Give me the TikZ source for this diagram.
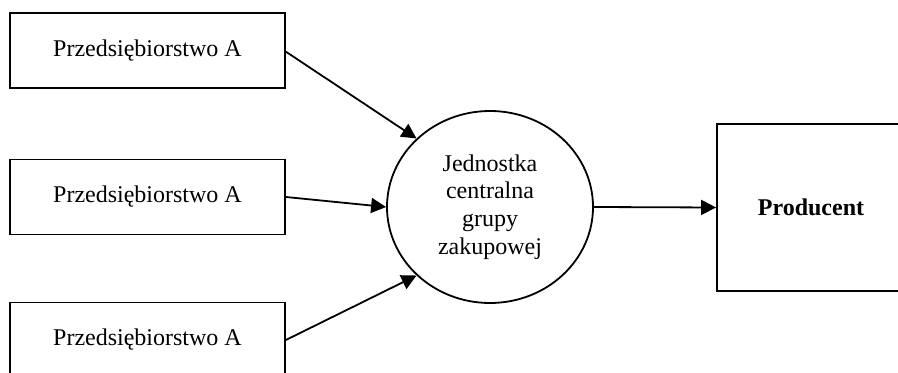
\documentclass[tikz,border=0pt]{standalone}
\usepackage{fontspec}
\setmainfont{Liberation Serif}
\usetikzlibrary{shapes.geometric,arrows.meta}
\tikzset{
  firmbox/.style={draw,line width=0.9pt,rectangle,minimum width=137.5pt,minimum height=37.5pt,inner sep=0pt,font=\fontsize{12}{13.8}\selectfont},
  hubnode/.style={draw,line width=0.9pt,ellipse,minimum width=103pt,minimum height=96pt,inner sep=0pt,align=center,font=\fontsize{12}{13.8}\selectfont},
  prodbox/.style={draw,line width=0.9pt,rectangle,minimum width=126pt,minimum height=83.5pt,inner sep=0pt,font=\fontsize{12}{13.8}\selectfont\bfseries},
  flow/.style={line width=0.9pt,-{Triangle[length=7.5pt,width=7.5pt]}}
}
\begin{document}
\begin{tikzpicture}[x=0.5pt,y=-0.5pt]
\clip (0,0) rectangle (898,373);
\fill[white] (0,0) rectangle (898,373);
\node[firmbox] (b1) at (147.5,50.5) {Przedsiębiorstwo A};
\node[firmbox] (b2) at (147.5,197) {Przedsiębiorstwo A};
\node[firmbox] (b3) at (147.5,340) {Przedsiębiorstwo A};
\node[hubnode] (c) at (490,207) {Jednostka\\centralna\\grupy\\zakupowej};
\node[prodbox] (p) at (843,207.5) {\hspace*{-32pt}Producent};
\draw[flow] ([yshift=-0.6pt]b1.east) -- (c.137);
\draw[flow] (b2.east) -- (c.west);
\draw[flow] (b3.east) -- (c.223);
\draw[flow] (c.east) -- (p.west);
\end{tikzpicture}
\end{document}
